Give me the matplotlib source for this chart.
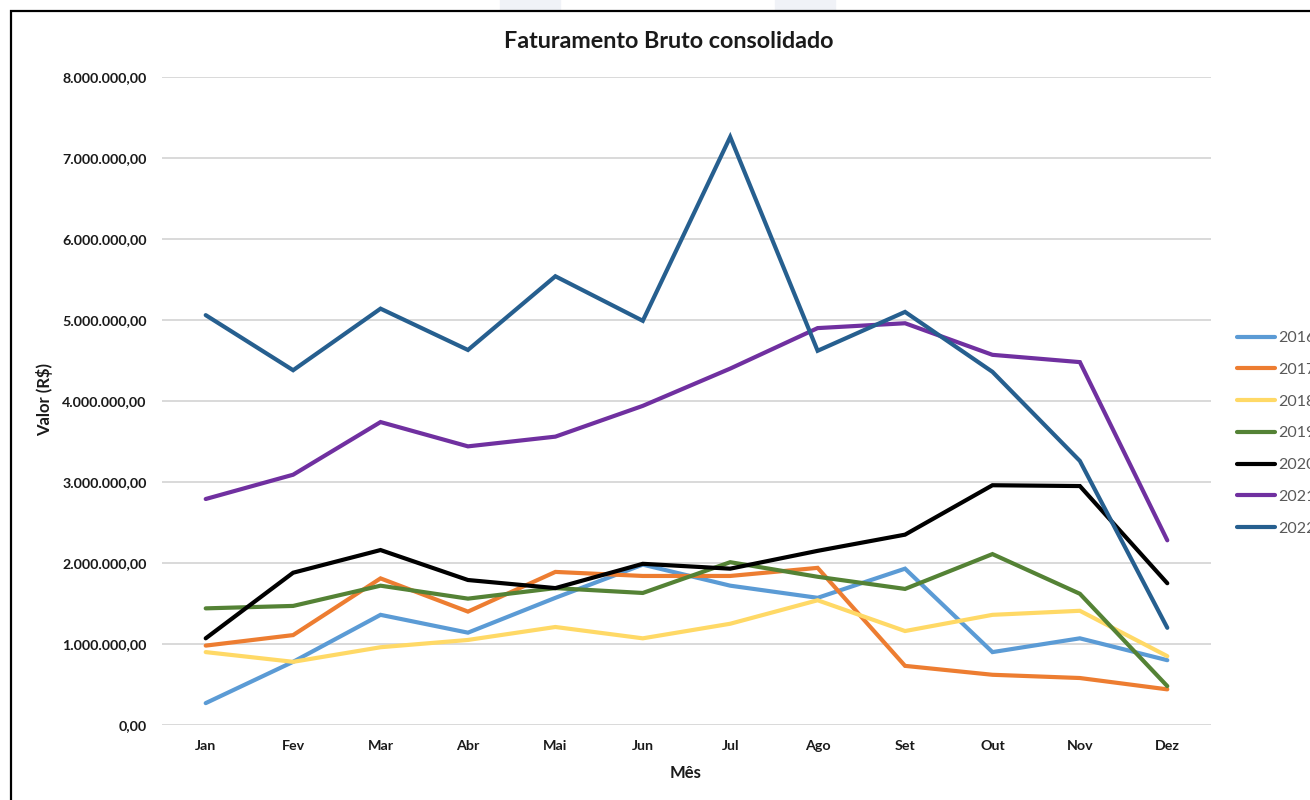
import matplotlib.pyplot as plt
import matplotlib.patches as mpatches
from matplotlib.ticker import FuncFormatter, MultipleLocator

plt.rcParams['font.family'] = ['Lato', 'DejaVu Sans']

meses = ['Jan', 'Fev', 'Mar', 'Abr', 'Mai', 'Jun', 'Jul', 'Ago', 'Set', 'Out', 'Nov', 'Dez']
anos = ['2016', '2017', '2018', '2019', '2020', '2021', '2022']

# valores em milhões de R$
v2016 = [0.27, 0.78, 1.36, 1.14, 1.57, 1.98, 1.72, 1.57, 1.93, 0.90, 1.07, 0.80]
v2017 = [0.98, 1.11, 1.81, 1.40, 1.89, 1.84, 1.84, 1.94, 0.73, 0.62, 0.58, 0.44]
v2018 = [0.90, 0.78, 0.96, 1.05, 1.21, 1.07, 1.25, 1.54, 1.16, 1.36, 1.41, 0.85]
v2019 = [1.44, 1.47, 1.72, 1.56, 1.69, 1.63, 2.01, 1.83, 1.68, 2.11, 1.62, 0.48]
v2020 = [1.07, 1.88, 2.16, 1.79, 1.69, 1.99, 1.93, 2.15, 2.35, 2.96, 2.95, 1.75]
v2021 = [2.79, 3.09, 3.74, 3.44, 3.56, 3.94, 4.40, 4.90, 4.96, 4.57, 4.48, 2.28]
v2022 = [5.06, 4.38, 5.14, 4.63, 5.54, 4.99, 7.26, 4.62, 5.10, 4.36, 3.26, 1.20]

series = [v2016, v2017, v2018, v2019, v2020, v2021, v2022]
cores = ['#5b9bd5', '#ed7d31', '#ffd966', '#548235', '#000000', '#7030a0', '#265f8f']

fig = plt.figure(figsize=(13.1, 8), dpi=100)
ax = fig.add_axes([162 / 1310, 75 / 800, (1211 - 162) / 1310, (725 - 77) / 800])

# marcas d'agua claras no topo
fig.patches.append(mpatches.Rectangle((500 / 1310, 790 / 800), 60 / 1310, 0.02,
                                      transform=fig.transFigure, color='#f0f2f7', zorder=0))
fig.patches.append(mpatches.Rectangle((775 / 1310, 790 / 800), 60 / 1310, 0.02,
                                      transform=fig.transFigure, color='#f0f2f7', zorder=0))
# moldura
fig.patches.append(mpatches.Rectangle((11 / 1310, -0.05), 1.2, 1.05 - 11 / 800,
                                      transform=fig.transFigure, fill=False,
                                      edgecolor='black', linewidth=1.6, zorder=5))

x = list(range(len(meses)))
for ano, vals, cor in zip(anos, series, cores):
    ax.plot(x, [v * 1e6 for v in vals], color=cor, linewidth=3, label=ano,
            solid_joinstyle='miter', solid_capstyle='round')

ax.set_xlim(-0.5, 11.5)
ax.set_ylim(0, 8e6)
ax.yaxis.set_major_locator(MultipleLocator(1e6))


def br(v, pos):
    s = f'{v:,.2f}'
    return s.replace(',', 'X').replace('.', ',').replace('X', '.')


ax.yaxis.set_major_formatter(FuncFormatter(br))
ax.set_xticks(x)
ax.set_xticklabels(meses)
ax.grid(axis='y', color='#d9d9d9', linewidth=1.4)
ax.set_axisbelow(True)
for s in ax.spines.values():
    s.set_visible(False)
ax.tick_params(length=0, labelsize=10.3, pad=11)
for lbl in ax.get_xticklabels() + ax.get_yticklabels():
    lbl.set_fontweight('bold')
    lbl.set_color('#1a1a1a')

fig.text(669 / 1310, 1 - 42 / 800, 'Faturamento Bruto consolidado', ha='center', va='center',
         fontsize=16.8, fontweight='bold', color='#1a1a1a')
fig.text(686 / 1310, 1 - 773 / 800, 'Mês', ha='center', va='center',
         fontsize=12, fontweight='bold', color='#1a1a1a')
fig.text(45 / 1310, 1 - 400 / 800, 'Valor (R$)', ha='center', va='center', rotation=90,
         fontsize=12, fontweight='bold', color='#1a1a1a')

leg = fig.legend(loc='upper left', bbox_to_anchor=(1237 / 1310, 1 - 331 / 800),
                 frameon=False, fontsize=11.5, handlelength=2.4, handletextpad=0.2,
                 labelspacing=1.1, borderaxespad=0, borderpad=0)
for t in leg.get_texts():
    t.set_color('#595959')

fig.savefig('out.png', dpi=100)
